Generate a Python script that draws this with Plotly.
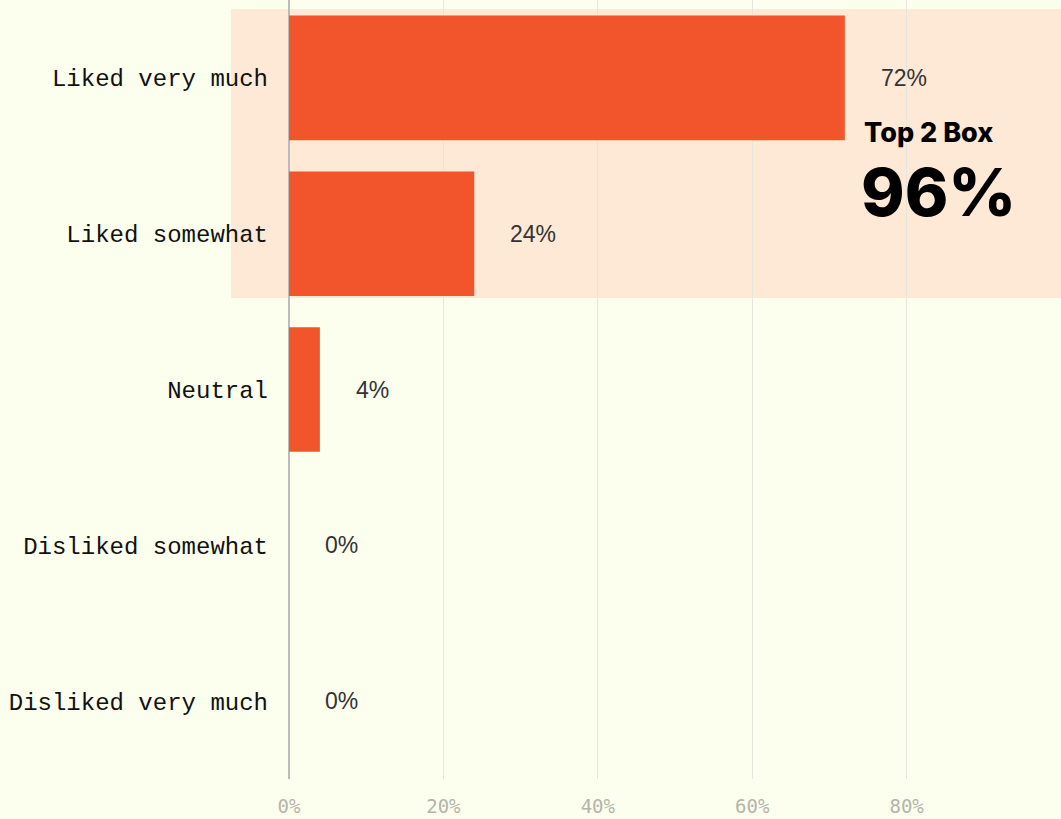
import plotly.graph_objects as go

categories = ["Liked very much", "Liked somewhat", "Neutral",
              "Disliked somewhat", "Disliked very much"]
shares = [72, 24, 4, 0, 0]
tick_values = [0, 20, 40, 60, 80]
tick_labels = ["0%", "20%", "40%", "60%", "80%"]
top2_label = "Top 2 Box"
top2_value = shares[0] + shares[1]

BG = "#FCFEEE"
BAR = "#F2552C"
HIGHLIGHT = "#FDE9D6"

fig = go.Figure()
fig.add_trace(go.Bar(
    x=shares, y=categories, orientation="h",
    marker=dict(color=BAR, line=dict(width=0)),
    width=0.8, hoverinfo="skip",
))

# value labels to the right of each bar
for cat, v in zip(categories, shares):
    fig.add_annotation(
        x=v, y=cat, xref="x", yref="y", text=f"{v}%",
        showarrow=False, xanchor="left", xshift=34,
        font=dict(family="Liberation Sans, Arial, sans-serif", size=23, color="#333333"),
    )

# shaded band behind the top two answers, reaching left past the axis
fig.add_shape(
    type="rect", xref="paper", yref="y", layer="below",
    x0=-0.0751, x1=1.0, y0=-0.442, y1=1.413,
    fillcolor=HIGHLIGHT, line=dict(width=0),
)

fig.add_annotation(
    x=74.2, y=0.35, xref="x", yref="y", text=top2_label,
    showarrow=False, xanchor="left", yanchor="middle",
    font=dict(family="Inter, Liberation Sans, sans-serif", size=27, color="#000000", weight=800),
)
fig.add_annotation(
    x=73.8, y=0.735, xref="x", yref="y", text=f"{top2_value}%",
    showarrow=False, xanchor="left", yanchor="middle",
    font=dict(family="Inter, Liberation Sans, sans-serif", size=66, color="#000000", weight=800),
)

fig.update_layout(
    width=1061, height=819,
    margin=dict(l=289, r=0, t=0, b=40),
    paper_bgcolor=BG, plot_bgcolor=BG,
    showlegend=False, bargap=0.2,
    xaxis=dict(
        range=[0, 100], tickvals=tick_values, ticktext=tick_labels,
        showgrid=True, gridcolor="#E6E6DC", gridwidth=1,
        zeroline=True, zerolinecolor="#BBBBBB", zerolinewidth=2,
        showline=False, ticks="", fixedrange=True,
        ticklabelstandoff=14,
        tickfont=dict(family="DejaVu Sans Mono, monospace", size=19, color="#B4B4AC"),
    ),
    yaxis=dict(
        categoryorder="array", categoryarray=categories, autorange="reversed",
        showgrid=False, zeroline=False, showline=False, ticks="",
        ticklabelstandoff=20,
        tickfont=dict(family="Liberation Mono, monospace", size=24, color="#111111"),
    ),
)

fig.write_html("out.html")
